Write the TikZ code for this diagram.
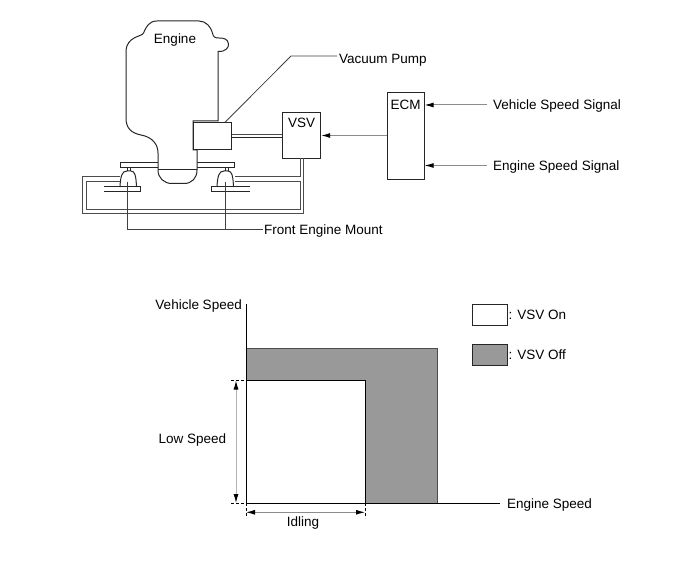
\documentclass[tikz,border=0pt]{standalone}
\usepackage{fontspec}
\setmainfont{Liberation Sans}
\usetikzlibrary{calc,positioning,arrows.meta}
\tikzset{
  >={Latex[length=9pt,width=5pt,black]},
  every node/.style={font=\fontsize{13.5}{15}\selectfont, inner sep=0pt},
  outline/.style={draw=black!85, line width=1pt},
  hose/.style={draw=black!70, line width=.9pt},
  leader/.style={draw=black!75, line width=.8pt},
  signal/.style={draw=black!45, line width=1pt, ->},
  unit/.style={rectangle, draw=black!85, line width=1pt, fill=white},
  guide/.style={draw=black, line width=.7pt, dash pattern=on 3pt off 2pt},
  offcolor/.style={fill=black!40},
}
\begin{document}
\begin{tikzpicture}[x=1pt,y=-1pt]
  \useasboundingbox (0,0) rectangle (690,564);
  % top part: plate and mounts go under the engine
  \node[unit, minimum width=114pt, minimum height=4.6pt] (plate) at (177,165) {};
  \draw[outline] (127.5,167) -- (127.5,171) (130,167) -- (130,171);
  \draw[outline] (225.5,167) -- (225.5,171) (228,167) -- (228,171);
  % left mount
  \draw[outline] (120,187) .. controls (120.5,176) and (122,171) .. (127,171)
    -- (131,171) .. controls (135,171) and (136,176) .. (136.5,187);
  \draw[outline] (104,187) -- (140.7,187) -- (140.7,191.7) -- (104,191.7);
  % right mount
  \draw[outline] (217,187) .. controls (217.5,176) and (219,171) .. (224,171)
    -- (228,171) .. controls (232,171) and (233,176) .. (233.5,187);
  \draw[outline] (250,187) -- (211.7,187) -- (211.7,191.7) -- (250,191.7);
  % engine body
  \draw[outline, fill=white] (218,121) -- (218,51.5)
    .. controls (226,52) and (229,47) .. (228.5,44)
    .. controls (228,39) and (224,38) .. (219,38)
    .. controls (215,38) and (213,37) .. (212.5,33)
    .. controls (211,27) and (206,21) .. (199,21)
    -- (157,21)
    .. controls (149,21) and (146,27) .. (143.5,33)
    .. controls (142,37) and (126,36) .. (126,52)
    -- (126,118)
    .. controls (126,128) and (131,133) .. (141,135)
    .. controls (152,137) and (158,144) .. (158,153)
    -- (158,170)
    .. controls (158,178) and (164,183.5) .. (172,183.5)
    -- (184,183.5)
    .. controls (192,183.5) and (197,178) .. (197,170)
    -- (197,150) -- (193,150) -- (193,121) -- cycle;
  \draw[outline] (158,170) -- (197,170);
  \node (engine) at (175,40) {Engine};
  % units
  \node[unit, minimum width=38pt, minimum height=27pt] (pump) at (212.3,135.8) {};
  \node[unit, minimum width=38pt, minimum height=45.6pt] (vsv) at (301.7,135.5) {};
  \node[below=5.5pt of vsv.north] (vsvlabel) {VSV};
  \node[unit, minimum width=36.7pt, minimum height=86.6pt] (ecm) at (405.7,136) {};
  \node[below=7.5pt of ecm.north] (ecmlabel) {ECM};
  % pipes and hoses
  \draw[hose] (pump.east |- 0,134) -- (vsv.west |- 0,134);
  \draw[outline] (pump.east |- 0,138) -- (vsv.west |- 0,138);
  \draw[hose] (303.5,158.3) -- (303.5,213.3) -- (82.3,213.3) -- (82.3,176) -- (120.3,176);
  \draw[hose] (300,158.3) -- (300,176) -- (235,176);
  \draw[hose] (120.3,181) -- (86,181) -- (86,209) -- (300,209) -- (300,181) -- (235,181);
  % labels and leaders
  \node[anchor=west] (vacuum) at (339,60) {Vacuum Pump};
  \draw[leader, shorten >=2pt] (225,122.3) -- (291,56) -- (vacuum.west |- 0,56);
  \node[anchor=west] (mount) at (264,231) {Front Engine Mount};
  \coordinate (mountl) at (127.5,182);
  \coordinate (mountr) at (225.7,182);
  \coordinate (mountend) at (263,229.3);
  \draw[leader] (mountl) |- (mountend);
  \draw[leader] (mountr) -- (mountr |- mountend);
  \node[anchor=west] (vehicle) at (493,106.5) {Vehicle Speed Signal};
  \node[anchor=west] (enginesig) at (493,167) {Engine Speed Signal};
  \draw[signal, shorten <=6pt] (vehicle.west |- 0,105) -- (ecm.east |- 0,105);
  \draw[signal, shorten <=6pt] (enginesig.west |- 0,165.5) -- (ecm.east |- 0,165.5);
  \draw[signal] (ecm.west |- vsv.center) -- (vsv.east);
  % lower part: operating range
  \coordinate (origin) at (246,503);
  \node[anchor=east] (yname) at (242,306.5) {Vehicle Speed};
  \node[anchor=west] (xname) at (507,505) {Engine Speed};
  \fill[offcolor] (origin) rectangle (437.5,348);
  \draw[draw=black!70, line width=1pt] (origin |- 0,348) -- (437.5,348) -- (437.5,503);
  \fill[white] (origin) rectangle (365,380.5);
  \draw[draw=black, line width=1pt] (origin |- 0,380.5) -- (365,380.5) -- (365,503);
  \draw[draw=black, line width=1pt, shorten >=7pt] (246,304) -- (origin) -- (xname.west |- origin);
  \draw[guide] (231,380.5) -- (246,380.5);
  \draw[guide] (231,503) -- (246,503);
  \draw[guide] (246,503) -- (246,518);
  \draw[guide] (365,503) -- (365,518);
  \draw[draw=black!30, line width=1pt, <->] (236,380.5) -- (236,503);
  \draw[draw=black!45, line width=1pt, <->] (246,512.3) -- (365,512.3);
  \node (low) at (192.5,440) {Low Speed};
  \node (idling) at (303,523) {Idling};
  % legend
  \node[unit, minimum width=35pt, minimum height=21pt] (onbox) at (489.5,314.5) {};
  \node[right=1pt of onbox, yshift=-.5pt] (onlabel) {: VSV On};
  \node[unit, offcolor, minimum width=35pt, minimum height=21pt] (offbox) at (489.5,354.5) {};
  \node[right=1pt of offbox, yshift=-.5pt] (offlabel) {: VSV Off};
\end{tikzpicture}
\end{document}
